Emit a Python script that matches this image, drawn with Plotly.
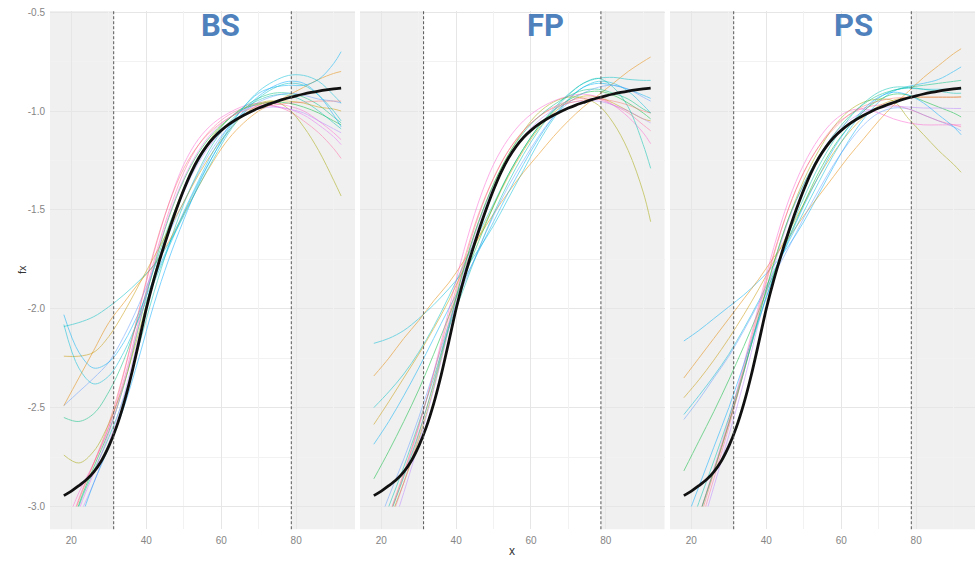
import plotly.graph_objects as go

# ---------------------------------------------------------------- data
PANEL_NAMES = ["BS", "FP", "PS"]

# shared evaluation grid for the fitted curves
GRID_X = [18, 22, 26, 30, 34, 38, 42, 46, 50, 54, 58, 62, 66, 70, 74, 78, 82, 86, 90, 92]

# true function
TRUE_X = [18, 20, 22, 24, 26, 28, 30, 32, 34, 36, 38, 40, 42, 44, 46, 48, 50, 52, 54,
          56, 58, 60, 62, 64, 66, 68, 70, 72, 74, 76, 78, 80, 82, 84, 86, 88, 90, 92]
TRUE_FX = [-2.945, -2.922, -2.895, -2.865, -2.825, -2.77, -2.695, -2.60, -2.48, -2.335,
           -2.17, -2.00, -1.854, -1.726, -1.608, -1.498, -1.398, -1.31, -1.238, -1.18,
           -1.134, -1.098, -1.068, -1.043, -1.021, -1.002, -0.985, -0.97, -0.957, -0.944,
           -0.933, -0.923, -0.914, -0.906, -0.899, -0.893, -0.888, -0.884]

# 10% / 90% quantiles of x (boundary region)
CUTS = [31.3, 78.7]

X_TICKS = [20, 40, 60, 80]
X_MINOR = [30, 50, 70, 90]
Y_TICKS = [-3.0, -2.5, -2.0, -1.5, -1.0, -0.5]
Y_MINOR = [-2.75, -2.25, -1.75, -1.25, -0.75]

SALMON, ORANGE, TAN, OLIVE = "#F8766D", "#E58700", "#C99800", "#A3A500"
GREEN, SEAGREEN, TEAL, TEAL2 = "#00BA38", "#00BF7D", "#00C0AF", "#00BFC4"
CYAN, SKY, SKY2, BLUE = "#00BCD8", "#00B0F6", "#00A9FF", "#619CFF"
LAVENDER, VIOLET, PINK, ROSE = "#B983FF", "#E76BF3", "#FD61D1", "#FF67A4"

BS_COLORS = [PINK, ROSE, GREEN, TEAL, LAVENDER, OLIVE, SEAGREEN, BLUE, ORANGE, TAN,
             SKY, CYAN, TEAL2, SALMON, SKY2, VIOLET]
BS_FX = [
    [-3.12, -2.93, -2.78, -2.60, -2.33, -2.02, -1.72, -1.47, -1.27, -1.14, -1.06, -1.01, -0.975, -0.96, -0.96, -0.975, -1.00, -1.05, -1.11, -1.145],
    [-3.20, -2.96, -2.78, -2.60, -2.36, -2.06, -1.76, -1.51, -1.31, -1.17, -1.08, -1.02, -0.985, -0.97, -0.975, -1.00, -1.05, -1.11, -1.19, -1.24],
    [-3.25, -2.99, -2.80, -2.62, -2.39, -2.09, -1.79, -1.54, -1.35, -1.21, -1.11, -1.04, -0.99, -0.965, -0.955, -0.96, -0.98, -1.01, -1.05, -1.07],
    [-3.30, -3.00, -2.82, -2.65, -2.45, -2.19, -1.92, -1.68, -1.47, -1.30, -1.16, -1.06, -0.99, -0.945, -0.92, -0.92, -0.95, -1.00, -1.06, -1.09],
    [-3.35, -3.06, -2.88, -2.68, -2.44, -2.14, -1.84, -1.60, -1.41, -1.26, -1.15, -1.07, -1.02, -0.99, -0.98, -0.99, -1.01, -1.05, -1.09, -1.11],
    [-2.74, -2.78, -2.72, -2.58, -2.38, -2.12, -1.84, -1.59, -1.39, -1.24, -1.12, -1.04, -0.985, -0.96, -0.95, -0.99, -1.08, -1.20, -1.35, -1.43],
    [-2.55, -2.57, -2.53, -2.42, -2.26, -2.04, -1.80, -1.58, -1.40, -1.25, -1.13, -1.04, -0.98, -0.935, -0.91, -0.91, -0.93, -0.97, -1.03, -1.06],
    [-2.49, -2.42, -2.35, -2.27, -2.14, -1.98, -1.80, -1.62, -1.46, -1.31, -1.18, -1.08, -1.01, -0.955, -0.925, -0.91, -0.92, -0.94, -0.95, -0.96],
    [-2.49, -2.35, -2.21, -2.07, -1.97, -1.87, -1.78, -1.66, -1.52, -1.38, -1.25, -1.14, -1.06, -1.00, -0.96, -0.92, -0.88, -0.84, -0.81, -0.80],
    [-2.24, -2.24, -2.22, -2.14, -2.02, -1.88, -1.74, -1.60, -1.46, -1.32, -1.20, -1.10, -1.02, -0.97, -0.95, -0.95, -0.96, -0.98, -0.99, -1.00],
    [-2.03, -2.22, -2.30, -2.27, -2.17, -2.02, -1.85, -1.68, -1.51, -1.35, -1.20, -1.08, -0.98, -0.91, -0.88, -0.87, -0.87, -0.84, -0.76, -0.70],
    [-2.08, -2.30, -2.38, -2.34, -2.22, -2.05, -1.87, -1.69, -1.52, -1.36, -1.22, -1.09, -0.98, -0.90, -0.85, -0.82, -0.82, -0.85, -0.92, -0.96],
    [-2.09, -2.07, -2.04, -1.99, -1.93, -1.86, -1.78, -1.67, -1.53, -1.38, -1.24, -1.11, -1.01, -0.935, -0.885, -0.86, -0.87, -0.92, -1.00, -1.05],
    [-3.20, -2.97, -2.78, -2.58, -2.32, -2.01, -1.71, -1.47, -1.29, -1.17, -1.09, -1.035, -1.0, -0.98, -0.97, -0.96, -0.955, -0.95, -0.95, -0.95],
    [-3.40, -3.10, -2.88, -2.70, -2.50, -2.25, -1.98, -1.75, -1.55, -1.37, -1.22, -1.10, -1.00, -0.925, -0.875, -0.85, -0.86, -0.92, -1.02, -1.08],
    [-3.30, -3.02, -2.83, -2.63, -2.38, -2.08, -1.78, -1.53, -1.34, -1.20, -1.10, -1.035, -0.995, -0.975, -0.975, -0.99, -1.02, -1.07, -1.13, -1.17],
]

FP_COLORS = [CYAN, ORANGE, TEAL2, TAN, SKY, GREEN, OLIVE, PINK, ROSE, LAVENDER,
             SEAGREEN, TEAL, BLUE, SALMON]
FP_FX = [
    [-2.175, -2.15, -2.11, -2.05, -1.98, -1.90, -1.81, -1.70, -1.58, -1.44, -1.30, -1.16, -1.04, -0.945, -0.88, -0.85, -0.86, -0.90, -0.97, -1.01],
    [-2.34, -2.25, -2.15, -2.06, -1.96, -1.87, -1.76, -1.64, -1.52, -1.41, -1.31, -1.22, -1.13, -1.05, -0.98, -0.92, -0.86, -0.80, -0.75, -0.727],
    [-2.50, -2.42, -2.33, -2.22, -2.09, -1.94, -1.78, -1.62, -1.47, -1.32, -1.19, -1.08, -0.99, -0.915, -0.86, -0.835, -0.83, -0.84, -0.845, -0.845],
    [-2.585, -2.47, -2.35, -2.23, -2.10, -1.96, -1.80, -1.64, -1.48, -1.33, -1.20, -1.09, -1.01, -0.955, -0.925, -0.93, -0.96, -1.00, -1.04, -1.05],
    [-2.685, -2.57, -2.44, -2.30, -2.15, -2.00, -1.86, -1.71, -1.56, -1.41, -1.27, -1.14, -1.03, -0.94, -0.88, -0.86, -0.87, -0.89, -0.92, -0.936],
    [-2.86, -2.72, -2.57, -2.41, -2.23, -2.04, -1.85, -1.66, -1.48, -1.32, -1.19, -1.08, -1.00, -0.945, -0.91, -0.90, -0.92, -0.96, -1.01, -1.04],
    [-3.30, -3.08, -2.88, -2.66, -2.40, -2.10, -1.80, -1.56, -1.37, -1.22, -1.10, -1.01, -0.955, -0.93, -0.935, -0.97, -1.06, -1.20, -1.41, -1.56],
    [-3.25, -3.05, -2.84, -2.60, -2.32, -2.01, -1.71, -1.46, -1.27, -1.14, -1.05, -0.99, -0.95, -0.925, -0.915, -0.93, -0.97, -1.03, -1.11, -1.165],
    [-3.35, -3.10, -2.88, -2.64, -2.37, -2.07, -1.78, -1.53, -1.34, -1.20, -1.10, -1.03, -0.98, -0.95, -0.935, -0.94, -0.97, -1.01, -1.07, -1.10],
    [-3.45, -3.17, -2.93, -2.68, -2.41, -2.11, -1.82, -1.57, -1.38, -1.24, -1.13, -1.05, -0.995, -0.96, -0.95, -0.95, -0.97, -1.00, -1.04, -1.06],
    [-3.30, -3.06, -2.85, -2.63, -2.38, -2.09, -1.80, -1.56, -1.37, -1.22, -1.11, -1.03, -0.97, -0.925, -0.895, -0.89, -0.91, -0.94, -0.99, -1.01],
    [-3.20, -3.00, -2.80, -2.58, -2.35, -2.10, -1.90, -1.70, -1.52, -1.36, -1.22, -1.10, -1.00, -0.92, -0.86, -0.835, -0.88, -0.98, -1.17, -1.29],
    [-3.15, -2.95, -2.76, -2.55, -2.32, -2.08, -1.88, -1.70, -1.53, -1.38, -1.25, -1.13, -1.03, -0.96, -0.91, -0.88, -0.87, -0.89, -0.93, -0.95],
    [-3.30, -3.05, -2.83, -2.59, -2.33, -2.04, -1.76, -1.52, -1.34, -1.20, -1.10, -1.03, -0.985, -0.96, -0.945, -0.94, -0.95, -0.97, -1.00, -1.01],
]

PS_COLORS = [SKY, ORANGE, TAN, CYAN, BLUE, GREEN, OLIVE, PINK, ROSE, LAVENDER,
             SEAGREEN, TEAL, SALMON, SKY2]
PS_FX = [
    [-2.163, -2.11, -2.05, -1.99, -1.93, -1.86, -1.78, -1.68, -1.56, -1.42, -1.28, -1.15, -1.04, -0.955, -0.90, -0.875, -0.86, -0.84, -0.80, -0.777],
    [-2.35, -2.25, -2.15, -2.05, -1.95, -1.85, -1.74, -1.64, -1.53, -1.43, -1.33, -1.23, -1.14, -1.05, -0.97, -0.90, -0.83, -0.77, -0.71, -0.685],
    [-2.45, -2.36, -2.26, -2.15, -2.03, -1.90, -1.76, -1.61, -1.47, -1.33, -1.21, -1.11, -1.03, -0.975, -0.945, -0.93, -0.93, -0.93, -0.93, -0.928],
    [-2.535, -2.44, -2.34, -2.23, -2.10, -1.96, -1.81, -1.66, -1.51, -1.36, -1.22, -1.10, -1.00, -0.935, -0.895, -0.885, -0.89, -0.89, -0.89, -0.89],
    [-2.56, -2.46, -2.35, -2.24, -2.11, -1.97, -1.83, -1.69, -1.54, -1.40, -1.27, -1.16, -1.07, -1.01, -0.985, -0.99, -1.02, -1.05, -1.08, -1.10],
    [-2.82, -2.67, -2.52, -2.36, -2.19, -2.01, -1.82, -1.64, -1.47, -1.31, -1.18, -1.08, -1.00, -0.945, -0.915, -0.92, -0.95, -0.98, -1.01, -1.03],
    [-3.30, -3.05, -2.82, -2.58, -2.32, -2.04, -1.77, -1.54, -1.35, -1.20, -1.08, -1.00, -0.955, -0.94, -0.95, -1.04, -1.12, -1.20, -1.27, -1.31],
    [-3.30, -3.05, -2.81, -2.56, -2.28, -1.98, -1.69, -1.45, -1.27, -1.14, -1.05, -1.00, -0.99, -1.01, -1.04, -1.06, -1.07, -1.07, -1.07, -1.07],
    [-3.40, -3.12, -2.86, -2.60, -2.32, -2.02, -1.73, -1.49, -1.31, -1.18, -1.08, -1.02, -0.985, -0.97, -0.97, -0.99, -1.02, -1.05, -1.07, -1.08],
    [-3.45, -3.16, -2.90, -2.64, -2.37, -2.07, -1.79, -1.55, -1.37, -1.23, -1.12, -1.05, -1.005, -0.985, -0.978, -0.98, -0.985, -0.985, -0.987, -0.987],
    [-3.30, -3.05, -2.82, -2.58, -2.32, -2.04, -1.77, -1.54, -1.37, -1.23, -1.12, -1.03, -0.965, -0.92, -0.895, -0.88, -0.87, -0.86, -0.85, -0.845],
    [-3.20, -2.98, -2.77, -2.55, -2.31, -2.06, -1.83, -1.62, -1.44, -1.28, -1.15, -1.04, -0.96, -0.905, -0.88, -0.88, -0.89, -0.90, -0.91, -0.91],
    [-3.35, -3.08, -2.83, -2.58, -2.30, -2.00, -1.72, -1.49, -1.31, -1.18, -1.09, -1.02, -0.975, -0.95, -0.935, -0.93, -0.93, -0.93, -0.93, -0.93],
    [-3.10, -2.90, -2.70, -2.50, -2.28, -2.05, -1.84, -1.65, -1.48, -1.33, -1.19, -1.08, -0.99, -0.93, -0.905, -0.92, -0.96, -1.02, -1.08, -1.12],
]

PANEL_COLORS = [BS_COLORS, FP_COLORS, PS_COLORS]
PANEL_FX = [BS_FX, FP_FX, PS_FX]

# ---------------------------------------------------------------- layout geometry
W, H = 976, 561
X_RANGE = [14.3, 95.7]
Y_LO, Y_HI = -3.115, -0.494      # panel extent
Y_CLIP = -3.0                    # curves are limited to fx >= -3
PANEL_PX = [(50, 355), (360, 664.5), (670, 975)]
TOP_PX, BOTTOM_PX = 7, 529

SHADE = "#f0f0f0"
GRID_MAJOR = "#e6e6e6"
GRID_MINOR = "#f2f2f2"
TICK_COLOR = "#858585"
TITLE_BLUE = "#4F81BD"

y_dom = [1 - BOTTOM_PX / H, 1 - TOP_PX / H]
clip_frac = (Y_CLIP - Y_LO) / (Y_HI - Y_LO)
line_dom = [y_dom[0] + clip_frac * (y_dom[1] - y_dom[0]), y_dom[1]]

fig = go.Figure()
layout = dict(
    width=W, height=H, autosize=False,
    margin=dict(l=0, r=0, t=0, b=0),
    paper_bgcolor="white", plot_bgcolor="rgba(0,0,0,0)",
    showlegend=False,
    font=dict(family="Liberation Sans, Arial, sans-serif"),
)
shapes, annotations = [], []

for i in range(3):
    n = i + 1
    xname = "x" if n == 1 else f"x{n}"
    bg_y = "y" if n == 1 else f"y{n}"
    ln_y = f"y{n + 3}"
    xd = [PANEL_PX[i][0] / W, PANEL_PX[i][1] / W]

    layout["xaxis" if n == 1 else f"xaxis{n}"] = dict(
        domain=xd, range=X_RANGE, anchor=bg_y,
        tickvals=X_TICKS, ticks="", showline=False, zeroline=False,
        showgrid=True, gridcolor=GRID_MAJOR, gridwidth=1,
        minor=dict(tickvals=X_MINOR, showgrid=True, gridcolor=GRID_MINOR, gridwidth=1),
        tickfont=dict(size=10, color=TICK_COLOR), ticklabelstandoff=4,
    )
    layout["yaxis" if n == 1 else f"yaxis{n}"] = dict(
        domain=y_dom, range=[Y_LO, Y_HI], anchor=xname,
        tickvals=Y_TICKS, ticktext=[f"{v:.1f}" for v in Y_TICKS],
        showticklabels=(n == 1), ticks="", showline=False, zeroline=False,
        showgrid=True, gridcolor=GRID_MAJOR, gridwidth=1,
        minor=dict(tickvals=Y_MINOR, showgrid=True, gridcolor=GRID_MINOR, gridwidth=1),
        tickfont=dict(size=10, color=TICK_COLOR), ticklabelstandoff=4,
    )
    layout[f"yaxis{n + 3}"] = dict(
        domain=line_dom, range=[Y_CLIP, Y_HI], anchor=xname,
        visible=False, showgrid=False, zeroline=False,
    )

    # empty trace so the background panel is created
    fig.add_trace(go.Scatter(x=[None], y=[None], xaxis=xname, yaxis=bg_y,
                             hoverinfo="skip"))

    # boundary regions
    shapes.append(dict(type="rect", xref=f"{xname} domain", yref=f"{bg_y} domain",
                       x0=0, x1=(CUTS[0] - X_RANGE[0]) / (X_RANGE[1] - X_RANGE[0]),
                       y0=0, y1=1, fillcolor=SHADE, line=dict(width=0), layer="below"))
    shapes.append(dict(type="rect", xref=f"{xname} domain", yref=f"{bg_y} domain",
                       x0=(CUTS[1] - X_RANGE[0]) / (X_RANGE[1] - X_RANGE[0]), x1=1,
                       y0=0, y1=1, fillcolor=SHADE, line=dict(width=0), layer="below"))
    for c in CUTS:
        shapes.append(dict(type="line", xref=xname, yref=f"{bg_y} domain",
                           x0=c, x1=c, y0=0, y1=1, layer="above",
                           line=dict(color="#555555", width=1, dash="3px,2px")))

    # fitted curves
    for col, fx in zip(PANEL_COLORS[i], PANEL_FX[i]):
        fig.add_trace(go.Scatter(
            x=GRID_X, y=fx, mode="lines", xaxis=xname, yaxis=ln_y,
            line=dict(color=col, width=1.0, shape="spline", smoothing=1.0),
            opacity=0.5, hoverinfo="skip",
        ))
    # true function
    fig.add_trace(go.Scatter(
        x=TRUE_X, y=TRUE_FX, mode="lines", xaxis=xname, yaxis=ln_y,
        line=dict(color="#111111", width=2.8, shape="spline", smoothing=0.8),
        hoverinfo="skip",
    ))

# panel titles
for name, cx in zip(PANEL_NAMES, [220, 545, 853]):
    annotations.append(dict(
        text=f"<b>{name}</b>", x=cx / W, y=1 - 21.5 / H, xref="paper", yref="paper",
        xanchor="center", yanchor="middle", showarrow=False,
        font=dict(family="Roboto, Arial, sans-serif", size=31, color=TITLE_BLUE),
    ))

# axis titles
annotations.append(dict(text="x", x=511.7 / W, y=1 - 551 / H, xref="paper", yref="paper",
                        xanchor="center", yanchor="middle", showarrow=False,
                        font=dict(size=12, color="#333333")))
annotations.append(dict(text="fx", x=22 / W, y=1 - 268 / H, xref="paper", yref="paper",
                        xanchor="center", yanchor="middle", showarrow=False,
                        textangle=-90, font=dict(size=11, color="#333333")))

layout["shapes"] = shapes
layout["annotations"] = annotations
fig.update_layout(**layout)

fig.write_html("out.html")
